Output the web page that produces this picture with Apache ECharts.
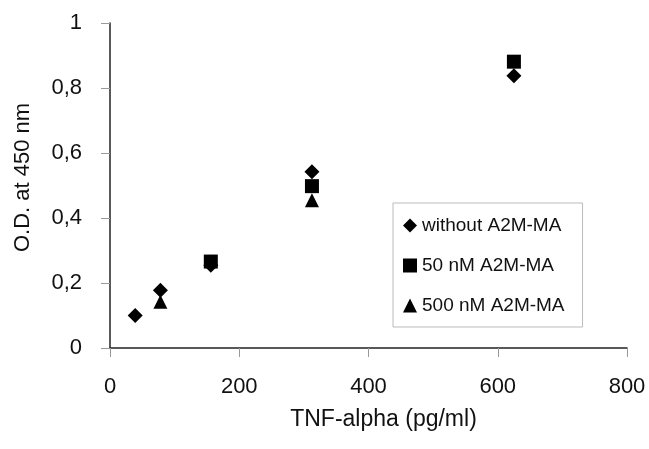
<!DOCTYPE html>
<html><head><meta charset="utf-8">
<script src="https://cdn.jsdelivr.net/npm/echarts@6/dist/echarts.min.js"></script>
<style>html,body{margin:0;padding:0;background:#fff}#c{width:649px;height:449px}</style>
</head><body><div id="c"></div>
<script>
const seriesNames = ['without A2M-MA', '50 nM A2M-MA', '500 nM A2M-MA'];
const withoutX = [39, 78, 156, 312.5, 625];
const withoutY = [0.10, 0.178, 0.255, 0.542, 0.838];
const nm50X = [156, 312.5, 625];
const nm50Y = [0.266, 0.498, 0.881];
const nm500X = [78, 312.5];
const nm500Y = [0.142, 0.455];
const xTicks = [0, 200, 400, 600, 800];
const yTicks = [0, 0.2, 0.4, 0.6, 0.8, 1];

const font = 'Liberation Sans, Arial, Helvetica, sans-serif';
const txt = '#111';
const pairs = (xs, ys) => xs.map((x, i) => [x, ys[i]]);
const chart = echarts.init(document.getElementById('c'), null, {renderer: 'canvas'});
chart.setOption({
  animation: false,
  backgroundColor: '#fff',
  grid: {left: 110, right: 22, top: 23, bottom: 101, containLabel: false},
  xAxis: {
    type: 'value', min: 0, max: 800, interval: 200,
    name: 'TNF-alpha (pg/ml)', nameLocation: 'middle', nameGap: 60,
    nameTextStyle: {fontFamily: font, fontSize: 23, color: txt, padding: [0, 0, 0, 30]},
    axisLine: {show: true, lineStyle: {color: '#222', width: 1.5}},
    axisTick: {show: true, inside: false, length: 9, lineStyle: {color: '#999'}},
    axisLabel: {fontFamily: font, fontSize: 22, color: txt, margin: 28,
      formatter: v => xTicks.includes(v) ? String(v) : ''},
    splitLine: {show: false}
  },
  yAxis: {
    type: 'value', min: 0, max: 1, interval: 0.2,
    name: 'O.D. at 450 nm', nameLocation: 'middle', nameGap: 76, nameRotate: 90,
    nameTextStyle: {fontFamily: font, fontSize: 22, color: txt, padding: [0, 0, 0, 16]},
    axisLine: {show: true, lineStyle: {color: '#222', width: 1.5}},
    axisTick: {show: true, inside: false, length: 9, lineStyle: {color: '#999'}},
    axisLabel: {fontFamily: font, fontSize: 22, color: txt, margin: 28,
      formatter: v => {
        const t = yTicks.find(k => Math.abs(k - v) < 1e-9);
        return t === undefined ? '' : String(Math.round(t * 10) / 10).replace('.', ',');
      }},
    splitLine: {show: false}
  },
  legend: {
    orient: 'vertical', left: 393, top: 203,
    data: [
      {name: seriesNames[0], icon: 'diamond'},
      {name: seriesNames[1], icon: 'rect'},
      {name: seriesNames[2], icon: 'triangle'}
    ],
    itemWidth: 14, itemHeight: 14, itemGap: 21,
    padding: [13, 18, 12, 10],
    borderColor: '#bbb', borderWidth: 1,
    textStyle: {fontFamily: font, fontSize: 19, color: txt}
  },
  series: [
    {name: seriesNames[2], type: 'scatter', symbol: 'triangle', symbolSize: [14, 14], z: 2,
     itemStyle: {color: '#000', opacity: 1}, data: pairs(nm500X, nm500Y)},
    {name: seriesNames[0], type: 'scatter', symbol: 'diamond', symbolSize: [15, 15], z: 3,
     itemStyle: {color: '#000', opacity: 1}, data: pairs(withoutX, withoutY)},
    {name: seriesNames[1], type: 'scatter', symbol: 'rect', symbolSize: [14, 14], z: 4,
     itemStyle: {color: '#000', opacity: 1}, data: pairs(nm50X, nm50Y)}
  ]
});
</script></body></html>
